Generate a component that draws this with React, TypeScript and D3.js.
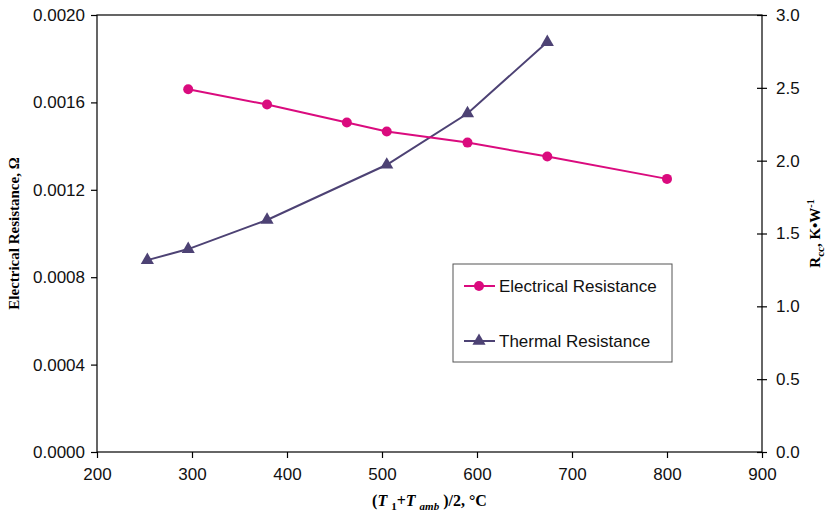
import React, { useEffect, useRef } from 'react';
import * as d3 from 'd3';

// x = (T1 + Tamb)/2 in °C
const elecTemp = [296, 379, 463, 505, 590, 674, 800];
const elecRes = [0.00166, 0.00159, 0.001508, 0.001467, 0.001416, 0.001352, 0.00125];
const thermTemp = [253, 296, 379, 505, 590, 674];
const thermRes = [1.317, 1.393, 1.593, 1.972, 2.324, 2.814];

const xTicks = [200, 300, 400, 500, 600, 700, 800, 900];
const leftTicks = [0, 0.0004, 0.0008, 0.0012, 0.0016, 0.002];
const rightTicks = [0, 0.5, 1.0, 1.5, 2.0, 2.5, 3.0];

const PINK = '#DA0B7E';
const PURPLE = '#4D4274';
const SANS = 'Arial, "Liberation Sans", Helvetica, sans-serif';
const SERIF = '"Times New Roman", "Liberation Serif", Times, serif';

const App = () => {
  const svgRef = useRef<SVGSVGElement>(null);

  useEffect(() => {
    const W = 828, H = 512;
    const margin = { top: 15, right: 66, bottom: 60, left: 97 };
    const width = W - margin.left - margin.right;
    const height = H - margin.top - margin.bottom;

    const root = d3.select(svgRef.current);
    root.selectAll('*').remove();
    root.attr('width', W).attr('height', H);

    const svg = root.append('g').attr('transform', `translate(${margin.left},${margin.top})`);

    const x = d3.scaleLinear().domain([200, 900]).range([0, width]);
    const yL = d3.scaleLinear().domain([0, 0.002]).range([height, 0]);
    const yR = d3.scaleLinear().domain([0, 3]).range([height, 0]);

    // plot frame
    svg.append('rect').attr('width', width).attr('height', height)
      .attr('fill', 'none').attr('stroke', '#000').attr('stroke-width', 1.2);

    const styleAxis = (g) => {
      g.select('.domain').remove();
      g.selectAll('line').attr('stroke', '#000').attr('stroke-width', 1.2);
      g.selectAll('text').attr('font-family', SANS).attr('font-size', 17).attr('fill', '#111');
    };

    svg.append('g').attr('transform', `translate(0,${height})`)
      .call(d3.axisBottom(x).tickValues(xTicks).tickFormat(d3.format('d')).tickSize(6).tickPadding(10))
      .call(styleAxis);

    svg.append('g')
      .call(d3.axisLeft(yL).tickValues(leftTicks).tickFormat(d3.format('.4f')).tickSize(6).tickPadding(6))
      .call(styleAxis);

    const right = svg.append('g').attr('transform', `translate(${width},0)`)
      .call(d3.axisRight(yR).tickValues(rightTicks).tickFormat(d3.format('.1f')).tickSize(5).tickPadding(9))
      .call(styleAxis);
    right.selectAll('.tick line').attr('x1', -5);

    // series
    const elec = elecTemp.map((t, i) => [t, elecRes[i]]);
    const therm = thermTemp.map((t, i) => [t, thermRes[i]]);

    svg.append('path').datum(therm)
      .attr('fill', 'none').attr('stroke', PURPLE).attr('stroke-width', 2)
      .attr('d', d3.line().x(d => x(d[0])).y(d => yR(d[1])));
    svg.append('path').datum(elec)
      .attr('fill', 'none').attr('stroke', PINK).attr('stroke-width', 2)
      .attr('d', d3.line().x(d => x(d[0])).y(d => yL(d[1])));

    const tri = d3.symbol().type(d3.symbolTriangle).size(75);
    svg.selectAll('.tri').data(therm).enter().append('path')
      .attr('transform', d => `translate(${x(d[0])},${yR(d[1])})`)
      .attr('d', tri).attr('fill', PURPLE);
    svg.selectAll('.dot').data(elec).enter().append('circle')
      .attr('cx', d => x(d[0])).attr('cy', d => yL(d[1])).attr('r', 5).attr('fill', PINK);

    // legend
    const lg = root.append('g').attr('transform', 'translate(453,264)');
    lg.append('rect').attr('width', 219).attr('height', 98)
      .attr('fill', '#fff').attr('stroke', '#555').attr('stroke-width', 1);
    const items = [
      { name: 'Electrical Resistance', color: PINK, y: 22, shape: 'circle' },
      { name: 'Thermal Resistance', color: PURPLE, y: 77, shape: 'tri' }
    ];
    items.forEach(it => {
      lg.append('line').attr('x1', 11).attr('x2', 42).attr('y1', it.y).attr('y2', it.y)
        .attr('stroke', it.color).attr('stroke-width', 2);
      if (it.shape === 'circle') {
        lg.append('circle').attr('cx', 26).attr('cy', it.y).attr('r', 5).attr('fill', it.color);
      } else {
        lg.append('path').attr('transform', `translate(26,${it.y})`).attr('d', tri).attr('fill', it.color);
      }
      lg.append('text').attr('x', 46).attr('y', it.y).attr('dy', '0.35em')
        .attr('font-family', SANS).attr('font-size', 17).attr('fill', '#111').text(it.name);
    });

    // axis titles
    root.append('text')
      .attr('transform', `translate(19,${margin.top + height / 2}) rotate(-90)`)
      .attr('text-anchor', 'middle').attr('font-family', SERIF).attr('font-weight', 'bold')
      .attr('font-size', 15).text('Electrical Resistance, Ω');

    const rt = root.append('text')
      .attr('transform', `translate(820,${margin.top + height / 2}) rotate(-90)`)
      .attr('text-anchor', 'middle').attr('font-family', SERIF).attr('font-weight', 'bold')
      .attr('font-size', 15);
    rt.append('tspan').text('R');
    rt.append('tspan').attr('font-size', 11).attr('dy', 4).text('cc');
    rt.append('tspan').attr('dy', -4).text(', K•W');
    rt.append('tspan').attr('font-size', 10).attr('dy', -6).text('-1');

    const bt = root.append('text')
      .attr('x', margin.left + width / 2).attr('y', 506)
      .attr('text-anchor', 'middle').attr('font-family', SERIF).attr('font-weight', 'bold')
      .attr('font-size', 16);
    bt.append('tspan').text('(');
    bt.append('tspan').attr('font-style', 'italic').text('T ');
    bt.append('tspan').attr('font-size', 11).attr('dy', 4).text('1');
    bt.append('tspan').attr('dy', -4).text('+');
    bt.append('tspan').attr('font-style', 'italic').text('T ');
    bt.append('tspan').attr('font-style', 'italic').attr('font-size', 11).attr('dy', 4).text('amb');
    bt.append('tspan').attr('dy', -4).text(' )/2, °C');
  }, []);

  return (
    <svg ref={svgRef} style={{ position: 'absolute', left: 0, top: 0, background: '#fff' }} />
  );
};

export default App;
